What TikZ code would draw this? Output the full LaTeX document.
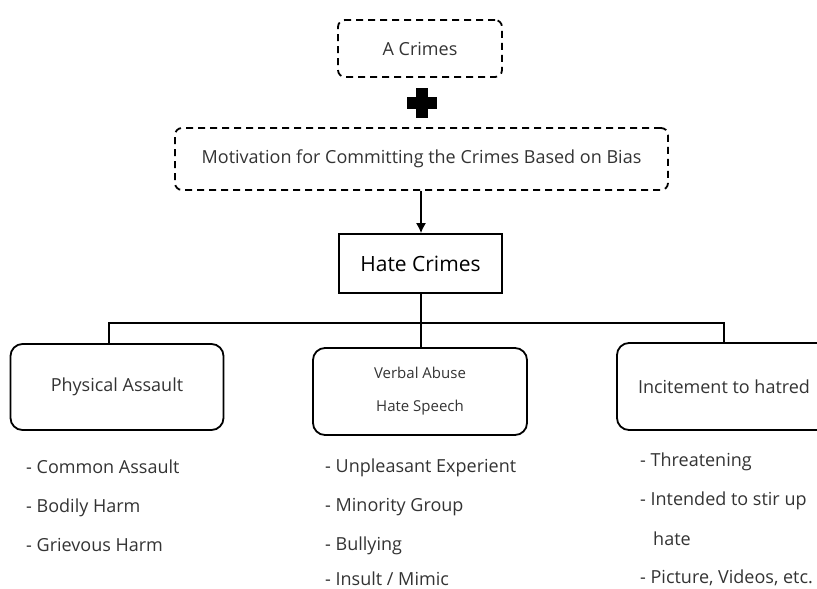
\documentclass[tikz,border=0pt]{standalone}
\usepackage{fontspec}
\setmainfont{Open Sans}
\usetikzlibrary{positioning,arrows.meta}
\definecolor{txt}{HTML}{333333}

\tikzset{
  dashbox/.style={draw, rounded corners=7pt, line width=1.8pt, dash pattern=on 7pt off 5pt,
    inner sep=0pt, text=txt, font=\fontsize{18}{21}\selectfont},
  hatebox/.style={draw, line width=2pt, inner sep=0pt, minimum width=163pt, minimum height=59pt,
    font=\fontsize{21}{24}\selectfont},
  kindbox/.style={draw, rounded corners=12pt, line width=1.8pt, inner sep=0pt,
    minimum width=213pt, minimum height=86pt, text=txt, align=center},
  item/.style={anchor=base west, inner sep=0pt, text=txt, font=\fontsize{18}{21}\selectfont},
  link/.style={line width=1.1pt}
}

\begin{document}
\begin{tikzpicture}[x=1pt,y=-1pt]
  \useasboundingbox (0,0) rectangle (817,589);

  \node[dashbox, minimum width=164pt, minimum height=57pt] (A) at (420,48.5) {A Crimes};
  \node[dashbox, minimum width=493pt, minimum height=62pt] (M) at (421.5,159) {Motivation for Committing the Crimes Based on Bias};
  \node[hatebox] (H) at (420.5,263.5) {Hate Crimes};

  % plus sign
  \coordinate (P) at (422,102.5);
  \fill ([shift={(-15,-6)}]P) rectangle ([shift={(15,6)}]P);
  \fill ([shift={(-6,-15)}]P) rectangle ([shift={(6,15)}]P);

  \node[kindbox, font=\fontsize{18}{21}\selectfont] (K1) at (117,387) {Physical Assault};
  \node[kindbox, minimum width=214pt, minimum height=87pt, font=\fontsize{15}{33}\selectfont] (K2) at (420,391.5) {Verbal Abuse\\Hate Speech};
  \node[kindbox, minimum width=214pt, minimum height=87pt, font=\fontsize{18}{21}\selectfont] (K3) at (724,386.5) {Incitement to hatred};

  \coordinate (B1) at (109,323);
  \coordinate (B2) at (421,323);
  \coordinate (B3) at (724,323);

  \path[-{Latex[length=10pt,width=10pt]}, link] (M.south -| B2) edge (H.north -| B2);
  \draw[link] (H.south -| B2) -- (B2);
  \draw[link] (B1 |- K1.north) -- (B1) -- (B3) -- (B3 |- K3.north);
  \draw[link] (B2) -- (B2 |- K2.north);

  \node[item] (K1a) at (26,473) {- Common Assault};
  \node[item] (K1b) at (26,512) {- Bodily Harm};
  \node[item] (K1c) at (26,551) {- Grievous Harm};

  \node[item] (K2a) at (325,472) {- Unpleasant Experient};
  \node[item] (K2b) at (325,511) {- Minority Group};
  \node[item] (K2c) at (325,550) {- Bullying};
  \node[item] (K2d) at (325,585) {- Insult / Mimic};

  \node[item] (K3a) at (640,466) {- Threatening};
  \node[item] (K3b) at (640,505) {- Intended to stir up};
  \node[item] (K3c) at (653,545) {hate};
  \node[item] (K3d) at (640,583) {- Picture, Videos, etc.};
\end{tikzpicture}
\end{document}
